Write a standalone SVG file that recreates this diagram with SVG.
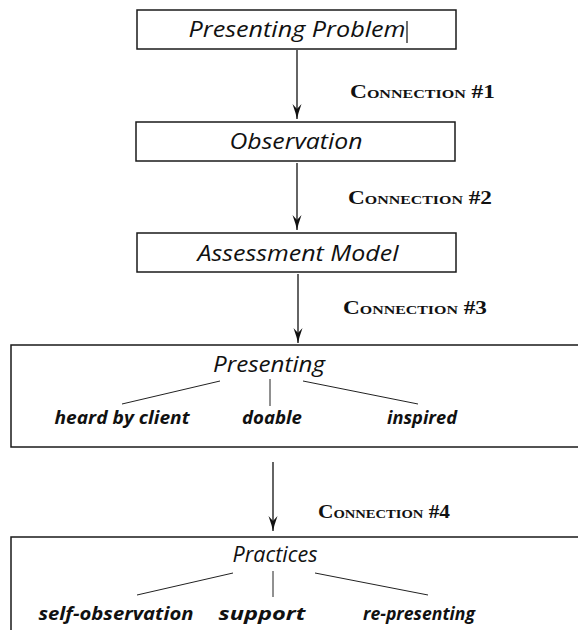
<svg xmlns="http://www.w3.org/2000/svg" width="578" height="630" viewBox="0 0 578 630">
<style>
.box{fill:#fff;stroke:#1a1a1a;stroke-width:1.5}
.node{font-family:"Open Sans","DejaVu Sans","Liberation Sans",sans-serif;font-style:italic;font-size:22px;fill:#111;text-anchor:middle}
.sub{font-family:"Open Sans","DejaVu Sans","Liberation Sans",sans-serif;font-style:italic;font-weight:bold;font-size:18px;fill:#111;text-anchor:middle}
.conn{font-family:"Liberation Serif",serif;font-weight:bold;font-variant:small-caps;font-size:19px;fill:#111}
.edge{stroke:#111;stroke-width:1.3;fill:none}
.tree{stroke:#222;stroke-width:1;fill:none}
</style>
<defs>
<marker id="arr" markerWidth="15" markerHeight="10" refX="15" refY="5" orient="auto" markerUnits="userSpaceOnUse" viewBox="0 0 15 10">
<path d="M0,0.5 L5,5 L0,9.5 L9,6.5 L15,5 L9,3.5 Z" fill="#111"/>
</marker>
</defs>
<rect width="578" height="630" fill="#fff"/>
<g id="connectors">
<line class="edge" x1="297" y1="50" x2="297" y2="119" marker-end="url(#arr)"/>
<line class="edge" x1="297" y1="163" x2="297" y2="230" marker-end="url(#arr)"/>
<line class="edge" x1="298" y1="274" x2="298" y2="343" marker-end="url(#arr)"/>
<line class="edge" x1="273" y1="462" x2="273" y2="531" marker-end="url(#arr)"/>
<text class="conn" x="350" y="98" textLength="145" lengthAdjust="spacingAndGlyphs">Connection #1</text>
<text class="conn" x="348" y="204" textLength="144" lengthAdjust="spacingAndGlyphs">Connection #2</text>
<text class="conn" x="343" y="314" textLength="144" lengthAdjust="spacingAndGlyphs">Connection #3</text>
<text class="conn" x="318" y="518" textLength="132" lengthAdjust="spacingAndGlyphs">Connection #4</text>
</g>
<g id="presenting-problem">
<rect class="box" x="137" y="10" width="319" height="39"/>
<text class="node" x="297" y="37" textLength="217" lengthAdjust="spacingAndGlyphs">Presenting Problem</text>
<line x1="407" y1="21" x2="407" y2="43" stroke="#111" stroke-width="1.2"/>
</g>
<g id="observation">
<rect class="box" x="136" y="122" width="319" height="39"/>
<text class="node" x="296" y="149" textLength="133" lengthAdjust="spacingAndGlyphs">Observation</text>
</g>
<g id="assessment-model">
<rect class="box" x="137" y="233" width="319" height="39"/>
<text class="node" x="298" y="261" textLength="201" lengthAdjust="spacingAndGlyphs">Assessment Model</text>
</g>
<g id="presenting">
<rect class="box" x="11" y="345" width="580" height="102"/>
<text class="node" x="269" y="372" textLength="112" lengthAdjust="spacingAndGlyphs">Presenting</text>
<line class="tree" x1="220" y1="381" x2="122" y2="404"/>
<line class="tree" x1="270" y1="379" x2="270" y2="406"/>
<line class="tree" x1="303" y1="381" x2="418" y2="404"/>
<text class="sub" x="122" y="424" textLength="135" lengthAdjust="spacingAndGlyphs">heard by client</text>
<text class="sub" x="272" y="424" textLength="60" lengthAdjust="spacingAndGlyphs">doable</text>
<text class="sub" x="422" y="424" textLength="70" lengthAdjust="spacingAndGlyphs">inspired</text>
</g>
<g id="practices">
<rect class="box" x="11" y="537" width="580" height="110"/>
<text class="node" x="275" y="562" textLength="85" lengthAdjust="spacingAndGlyphs">Practices</text>
<line class="tree" x1="233" y1="573" x2="137" y2="595"/>
<line class="tree" x1="273" y1="571" x2="273" y2="597"/>
<line class="tree" x1="315" y1="573" x2="428" y2="595"/>
<text class="sub" x="116" y="620" textLength="155" lengthAdjust="spacingAndGlyphs">self-observation</text>
<text class="sub" x="262" y="620" textLength="87" lengthAdjust="spacingAndGlyphs">support</text>
<text class="sub" x="419" y="620" textLength="112" lengthAdjust="spacingAndGlyphs">re-presenting</text>
</g>
</svg>
